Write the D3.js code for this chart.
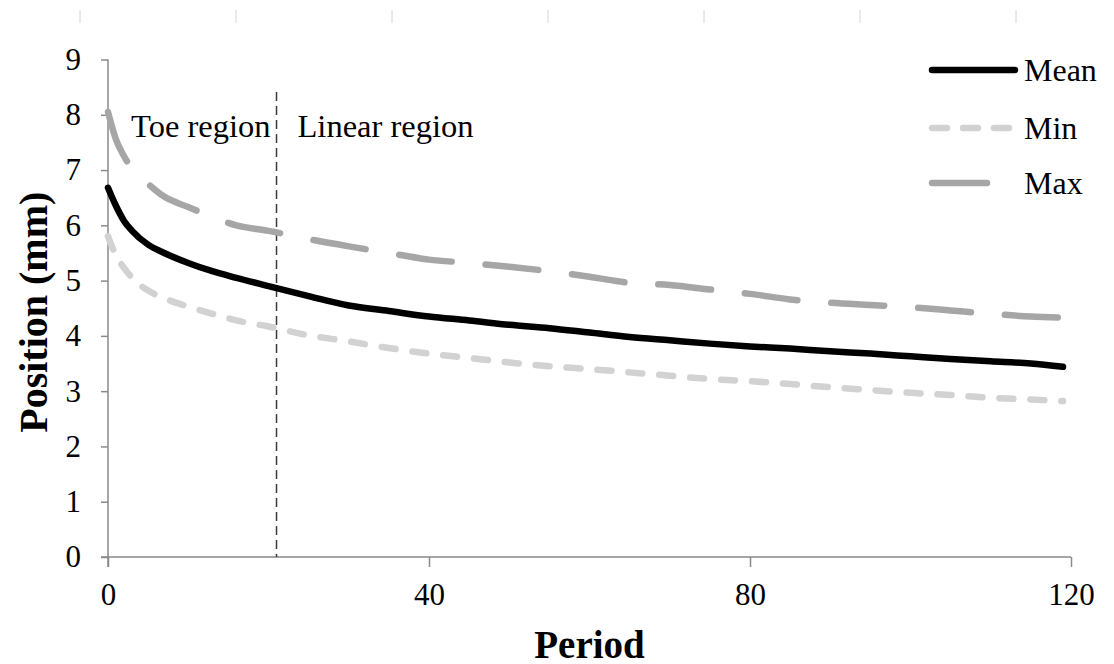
<!DOCTYPE html>
<html>
<head>
<meta charset="utf-8">
<script src="https://cdn.jsdelivr.net/npm/d3@7"></script>
<style>
  html, body { margin: 0; padding: 0; background: #fff; }
  svg { display: block; }
  text { font-family: "Liberation Serif", "Times New Roman", serif; }
</style>
</head>
<body>
<svg id="chart" width="1114" height="664"></svg>
<script>
// Creep position over loading periods
const periods = [0, 1, 2, 3, 5, 7, 10, 13, 16, 20, 25, 30, 35, 40, 45, 50, 55, 60, 65, 70, 75, 80, 85, 90, 95, 100, 105, 110, 115, 119];
const meanValues = [6.68, 6.35, 6.08, 5.90, 5.65, 5.50, 5.32, 5.17, 5.05, 4.90, 4.72, 4.55, 4.45, 4.35, 4.28, 4.20, 4.14, 4.06, 3.98, 3.92, 3.86, 3.81, 3.77, 3.72, 3.68, 3.63, 3.58, 3.54, 3.50, 3.44];
const minValues  = [5.80, 5.45, 5.23, 5.05, 4.82, 4.68, 4.53, 4.40, 4.28, 4.17, 4.01, 3.90, 3.78, 3.68, 3.60, 3.52, 3.45, 3.40, 3.34, 3.28, 3.22, 3.18, 3.13, 3.07, 3.02, 2.97, 2.93, 2.88, 2.85, 2.82];
const maxValues  = [8.05, 7.55, 7.25, 7.02, 6.75, 6.52, 6.33, 6.15, 6.00, 5.90, 5.75, 5.62, 5.50, 5.38, 5.32, 5.25, 5.17, 5.07, 4.96, 4.92, 4.84, 4.76, 4.66, 4.60, 4.56, 4.52, 4.46, 4.40, 4.35, 4.33];
const seriesNames = ["Mean", "Min", "Max"];
const xTicks = [0, 40, 80, 120];
const yTicks = [0, 1, 2, 3, 4, 5, 6, 7, 8, 9];
const regionBoundary = 21;
const regionLabels = ["Toe region", "Linear region"];

const svg = d3.select("#chart");

const x = d3.scaleLinear().domain([0, 120]).range([108, 1071]);
const y = d3.scaleLinear().domain([0, 9]).range([557, 59.5]);

// faint tick marks along the top edge
svg.append("g").selectAll("line")
  .data(d3.range(7))
  .join("line")
  .attr("x1", i => 80 + i * 156).attr("x2", i => 80 + i * 156)
  .attr("y1", 10).attr("y2", 23)
  .attr("stroke", "#d4d4d4").attr("stroke-width", 1);

const axisColor = "#8a8a8a";
const tickFont = 31;

// x axis
const gx = svg.append("g")
  .attr("transform", `translate(0,${y(0)})`)
  .call(d3.axisBottom(x).tickValues(xTicks).tickSize(10).tickPadding(16).tickFormat(d3.format("d")));
gx.select(".domain").attr("stroke", axisColor).attr("stroke-width", 1.5).attr("d", `M${x(0) - 7},0H${x(120)}`);
gx.selectAll(".tick line").attr("stroke", axisColor).attr("stroke-width", 1.5);
gx.selectAll(".tick text").attr("font-size", tickFont).attr("fill", "#000")
  .attr("font-family", "'Liberation Serif', serif");

// y axis
const gy = svg.append("g")
  .attr("transform", `translate(${x(0)},0)`)
  .call(d3.axisLeft(y).tickValues(yTicks).tickSize(7).tickPadding(20).tickFormat(d3.format("d")));
gy.select(".domain").attr("stroke", axisColor).attr("stroke-width", 1.5).attr("d", `M0,${y(0) + 10}V${y(9)}`);
gy.selectAll(".tick line").attr("stroke", axisColor).attr("stroke-width", 1.5);
gy.selectAll(".tick text").attr("font-size", tickFont).attr("fill", "#000")
  .attr("font-family", "'Liberation Serif', serif");

// axis titles
svg.append("text")
  .attr("x", (x(0) + x(120)) / 2).attr("y", 658)
  .attr("text-anchor", "middle").attr("font-size", 39).attr("font-weight", "bold")
  .text("Period");
svg.append("text")
  .attr("transform", `translate(47,${(y(0) + y(9)) / 2 + 4}) rotate(-90)`)
  .attr("text-anchor", "middle").attr("font-size", 40).attr("font-weight", "bold")
  .text("Position (mm)");

// region divider
svg.append("line")
  .attr("x1", x(regionBoundary)).attr("x2", x(regionBoundary))
  .attr("y1", 92).attr("y2", y(0))
  .attr("stroke", "#3a3a3a").attr("stroke-width", 1.5)
  .attr("stroke-dasharray", "9,5");

svg.append("text").attr("x", x(regionBoundary) - 6).attr("y", 137)
  .attr("text-anchor", "end").attr("font-size", 32.5).text(regionLabels[0]);
svg.append("text").attr("x", x(regionBoundary) + 21).attr("y", 137)
  .attr("text-anchor", "start").attr("font-size", 32.5).text(regionLabels[1]);

// series
const styles = {
  Mean: { color: "#000000", dash: null, width: 6.5 },
  Min:  { color: "#d2d2d2", dash: "14,17", width: 6.5 },
  Max:  { color: "#a6a6a6", dash: "53,34", width: 6.5 }
};
const valuesBySeries = { Mean: meanValues, Min: minValues, Max: maxValues };

const line = d3.line()
  .x(d => x(d[0]))
  .y(d => y(d[1]))
  .curve(d3.curveMonotoneX);

// draw lighter series first so Mean sits on top
["Min", "Max", "Mean"].forEach(name => {
  const s = styles[name];
  svg.append("path")
    .datum(periods.map((p, i) => [p, valuesBySeries[name][i]]))
    .attr("fill", "none")
    .attr("stroke", s.color)
    .attr("stroke-width", s.width)
    .attr("stroke-linecap", "round")
    .attr("stroke-linejoin", "round")
    .attr("stroke-dasharray", s.dash)
    .attr("d", line);
});

// legend
const legendRows = [
  { name: seriesNames[0], y: 70, x2: 1015 },
  { name: seriesNames[1], y: 128, x2: 1011 },
  { name: seriesNames[2], y: 183, x2: 987 }
];
const lg = svg.append("g");
legendRows.forEach(r => {
  const s = styles[r.name];
  lg.append("line")
    .attr("x1", 932).attr("x2", r.x2)
    .attr("y1", r.y).attr("y2", r.y)
    .attr("stroke", s.color).attr("stroke-width", s.width)
    .attr("stroke-linecap", "round")
    .attr("stroke-dasharray", r.name === "Min" ? "15,16" : null);
  lg.append("text")
    .attr("x", 1024).attr("y", r.y + 11)
    .attr("font-size", 32)
    .text(r.name);
});
</script>
</body>
</html>
